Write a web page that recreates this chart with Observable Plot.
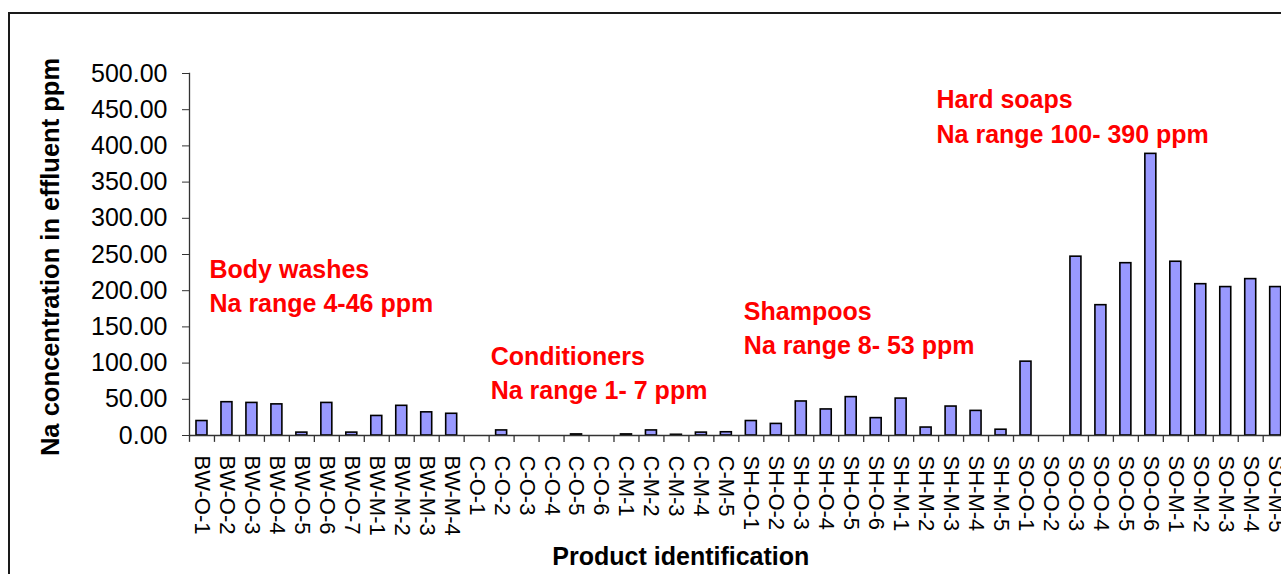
<!DOCTYPE html>
<html><head><meta charset="utf-8">
<script src="https://cdn.jsdelivr.net/npm/d3@7"></script>
<script src="https://cdn.jsdelivr.net/npm/@observablehq/plot@0.6"></script>
<style>
html,body{margin:0;padding:0;background:#fff;overflow:hidden;}
#wrap{position:relative;width:1281px;height:574px;overflow:hidden;background:#fff;}
#frame{position:absolute;left:8px;top:12px;width:1400px;height:700px;border:2px solid #1a1a1a;box-sizing:border-box;}
#chart{position:absolute;left:0;top:0;width:1300px;height:574px;}
#chart svg{max-width:none !important;}
</style></head><body>
<div id="wrap"><div id="frame"></div><div id="chart"></div></div>
<script>
// ---- data ----
const products = ["BW-O-1","BW-O-2","BW-O-3","BW-O-4","BW-O-5","BW-O-6","BW-O-7","BW-M-1","BW-M-2","BW-M-3","BW-M-4",
  "C-O-1","C-O-2","C-O-3","C-O-4","C-O-5","C-O-6","C-M-1","C-M-2","C-M-3","C-M-4","C-M-5",
  "SH-O-1","SH-O-2","SH-O-3","SH-O-4","SH-O-5","SH-O-6","SH-M-1","SH-M-2","SH-M-3","SH-M-4","SH-M-5",
  "SO-O-1","SO-O-2","SO-O-3","SO-O-4","SO-O-5","SO-O-6","SO-M-1","SO-M-2","SO-M-3","SO-M-4","SO-M-5"];
const naPpm = [20,46,45,43,4,45,4,27,41,32,30,
  0,7,0,0,1.5,0,1.5,7,1,4,4.5,
  20,16,47,36,53,24,51,11,40,34,8,
  102,0,247,180,238,389,240,209,205,216,205];
const yTicks = [0,50,100,150,200,250,300,350,400,450,500];
const yTitle = "Na concentration in effluent ppm";
const xTitle = "Product identification";
const noteTitle = ["Body washes","Conditioners","Shampoos","Hard soaps"];
const noteRange = ["Na range 4-46 ppm","Na range 1- 7 ppm","Na range 8- 53 ppm","Na range 100- 390 ppm"];
const noteAnchor = ["BW-O-1","C-O-1","SH-O-1","SH-M-2"];
const noteValue = [240.5,120.5,182.6,475];

// ---- layout ----
const W = 1300, H = 574;
const mL = 189, mT = 73, mB = 139;
const step = 24.97;
const mR = W - mL - step * products.length;
const noteDx = [7.5, 14, -7.5, 10.4];
const font = "'Liberation Sans', Arial, sans-serif";

const data = products.map((p, i) => ({product: p, value: naPpm[i]}));
const notes = noteTitle.map((t, i) => ({anchor: noteAnchor[i], value: noteValue[i], text: t + "\n" + noteRange[i]}));

const chart = Plot.plot({
  width: W, height: H,
  marginLeft: mL, marginRight: mR, marginTop: mT, marginBottom: mB,
  x: {domain: products, paddingInner: 0.56, paddingOuter: 0.28, axis: null},
  y: {domain: [0, 500], axis: null},
  style: {fontFamily: font, background: "transparent", color: "black", maxWidth: "none"},
  marks: [
    Plot.barY(data.filter(d => d.value > 0), {x: "product", y: "value", fill: "#9999ff", stroke: "#000", strokeWidth: 1.6}),
    Plot.ruleY([0], {stroke: "#333", strokeWidth: 1.3}),
    Plot.ruleX(products, {x: d => d, y1: 0, y2: -9.5, dx: -step / 2, stroke: "#333", strokeWidth: 1.3}),
    Plot.frame({anchor: "left", stroke: "#333", strokeWidth: 1.3}),
    Plot.axisY({ticks: yTicks, tickFormat: d => d.toFixed(2), tickSize: 7, tickPadding: 15, fontSize: 25, label: null, stroke: "#333", fill: "black"}),
    Plot.text(products, {x: d => d, frameAnchor: "bottom", rotate: 90, textAnchor: "start", lineAnchor: "middle", dy: 20, fontSize: 22, fill: "black"}),
    Plot.text([yTitle], {frameAnchor: "left", rotate: -90, textAnchor: "middle", lineAnchor: "middle", dx: -139, dy: 2.5, fontSize: 25.5, fontWeight: "bold", fill: "black"}),
    Plot.text([xTitle], {frameAnchor: "bottom", textAnchor: "middle", lineAnchor: "middle", dx: -58, dy: 121, fontSize: 25, fontWeight: "bold", fill: "black"}),
    ...notes.map((n, i) => Plot.text([n], {x: "anchor", y: "value", text: "text", dx: noteDx[i], dy: -8, textAnchor: "start", lineAnchor: "top", lineHeight: 1.38, fontSize: 25, fontWeight: "bold", fill: "#ff0000"}))
  ]
});
document.getElementById("chart").appendChild(chart);
</script>
</body></html>
